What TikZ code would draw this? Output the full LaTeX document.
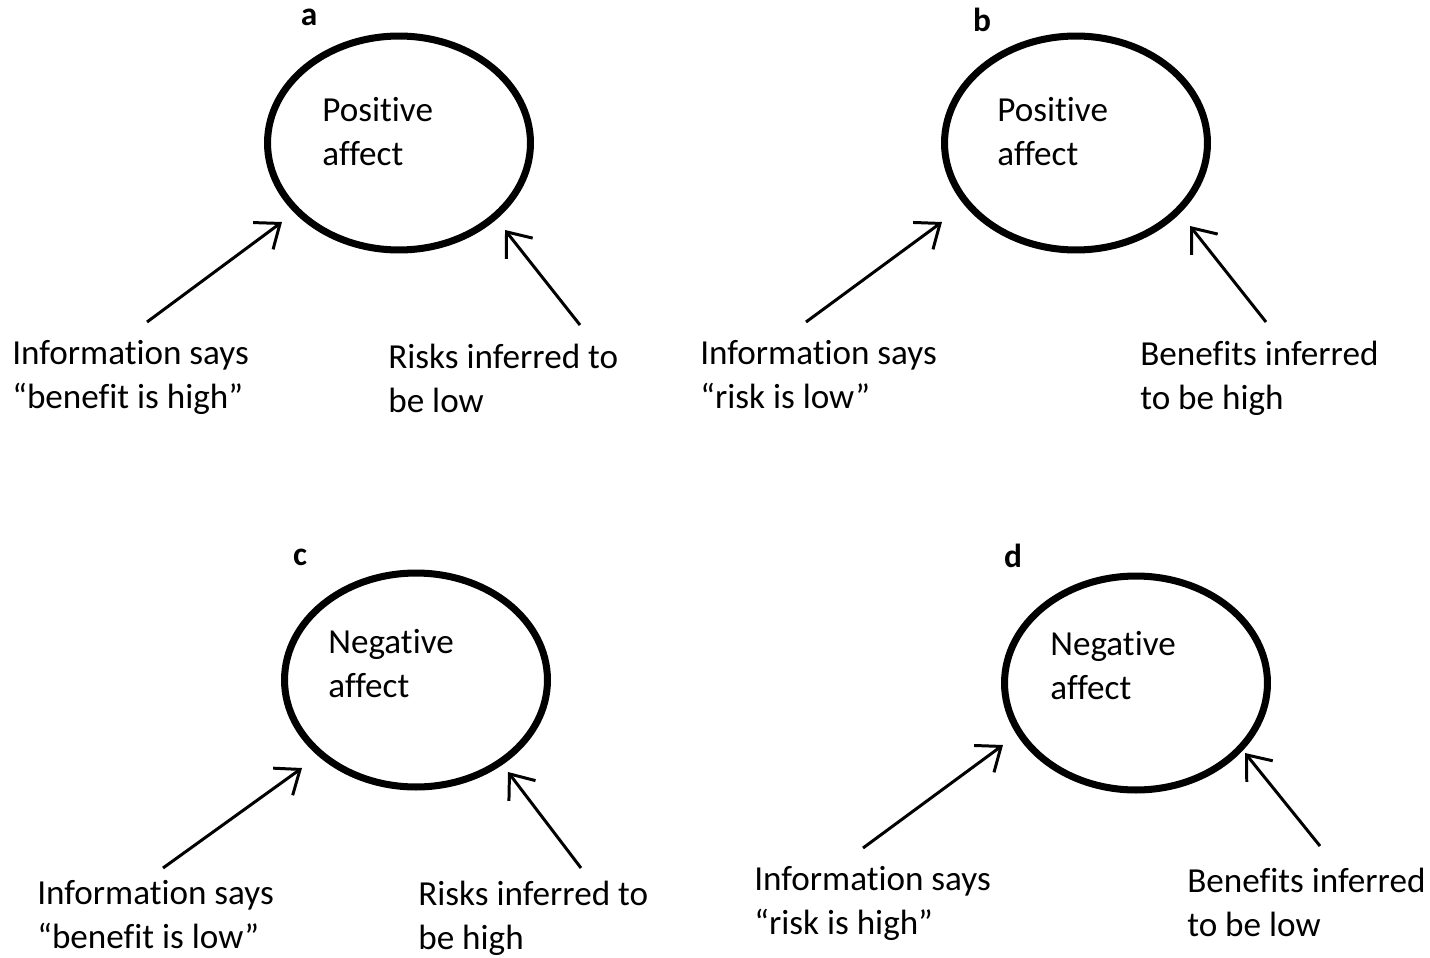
\documentclass[tikz,border=0pt]{standalone}
\usepackage{fontspec}
\setmainfont{Carlito}[Ligatures = NoCommon]
\usetikzlibrary{shapes.geometric, arrows.meta}
\tikzset{
  affect/.style = {draw, ellipse, line width = 4pt, minimum width = 5.26cm, minimum height = 4.28cm},
  txt/.style = {anchor = base west, align = left, inner sep = 0pt, font = \fontsize{20}{25}\selectfont},
  panel/.style = {anchor = base, inner sep = 0pt, font = \fontsize{19}{22}\selectfont\bfseries},
  infl/.style = {line width = 1.7pt, -{Straight Barb[length = 12pt, width = 19pt, line width = 1.7pt]}}
}
\begin{document}
\begin{tikzpicture}[x = 0.02cm, y = -0.02cm]
\useasboundingbox (0,0) rectangle (1430,957);
% panel a
\node[panel] (labA) at (309,25) {a};
\node[affect] (affA) at (399,143) {};
\node[txt] (inA) at (322,165) {Positive\\affect};
\node[txt] (infoA) at (12,408) {Information says\\“benefit is high”};
\node[txt] (infA) at (388,412) {Risks inferred to\\be low};
\coordinate (tailA1) at (147,322); \coordinate (headA1) at (282,222);
\coordinate (tailA2) at (580,325); \coordinate (headA2) at (505,230);
\draw[infl] (tailA1) -- (headA1);
\draw[infl] (tailA2) -- (headA2);
% panel b
\node[panel] (labB) at (982,31) {b};
\node[affect] (affB) at (1076,143) {};
\node[txt] (inB) at (997,165) {Positive\\affect};
\node[txt] (infoB) at (700,408) {Information says\\“risk is low”};
\node[txt] (infB) at (1140,409) {Benefits inferred\\to be high};
\coordinate (tailB1) at (806,322); \coordinate (headB1) at (942,222);
\coordinate (tailB2) at (1266,322); \coordinate (headB2) at (1190,226);
\draw[infl] (tailB1) -- (headB1);
\draw[infl] (tailB2) -- (headB2);
% panel c
\node[panel] (labC) at (300,565) {c};
\node[affect] (affC) at (416,680) {};
\node[txt] (inC) at (328,697) {Negative\\affect};
\node[txt] (infoC) at (37,948) {Information says\\“benefit is low”};
\node[txt] (infC) at (418,949) {Risks inferred to\\be high};
\coordinate (tailC1) at (163,868); \coordinate (headC1) at (302,768);
\coordinate (tailC2) at (581,868); \coordinate (headC2) at (508,772);
\draw[infl] (tailC1) -- (headC1);
\draw[infl] (tailC2) -- (headC2);
% panel d
\node[panel] (labD) at (1013,567) {d};
\node[affect] (affD) at (1136,683) {};
\node[txt] (inD) at (1050,699) {Negative\\affect};
\node[txt] (infoD) at (754,934) {Information says\\“risk is high”};
\node[txt] (infD) at (1187,936) {Benefits inferred\\to be low};
\coordinate (tailD1) at (863,848); \coordinate (headD1) at (1003,745);
\coordinate (tailD2) at (1320,846); \coordinate (headD2) at (1245,753);
\draw[infl] (tailD1) -- (headD1);
\draw[infl] (tailD2) -- (headD2);
\end{tikzpicture}
\end{document}
